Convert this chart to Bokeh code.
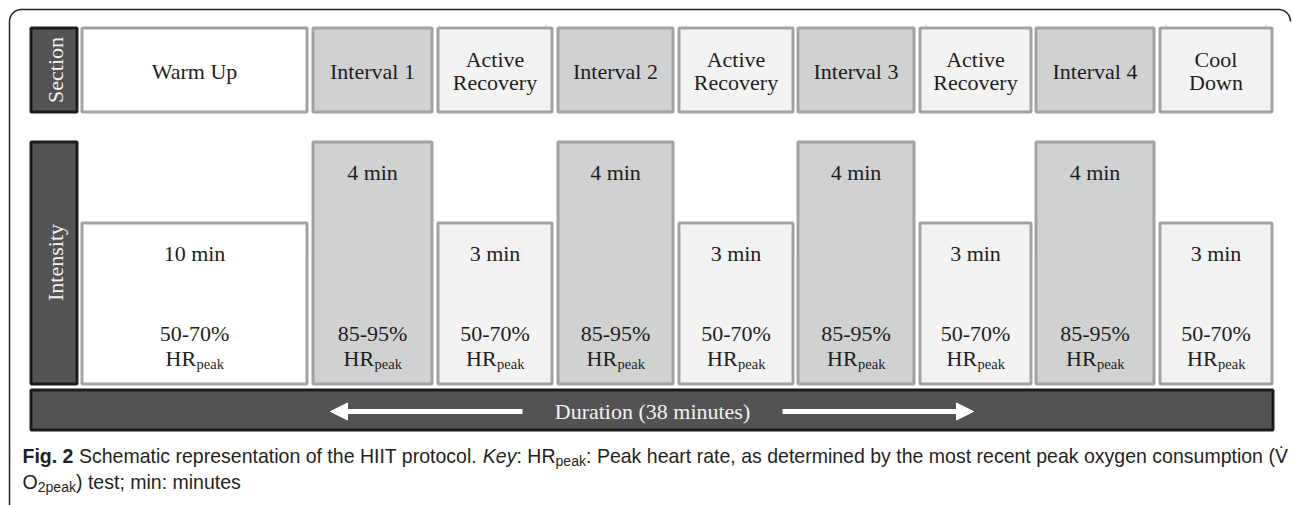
import numpy as np
from bokeh.plotting import figure
from bokeh.models import Range1d, ColumnDataSource, Arrow, NormalHead
from bokeh.core.properties import value
from bokeh.embed import file_html
from bokeh.resources import INLINE

# ---------------- data ----------------
sections = ["Warm Up", "Interval 1", "Active\nRecovery", "Interval 2", "Active\nRecovery",
            "Interval 3", "Active\nRecovery", "Interval 4", "Cool\nDown"]
kinds = ["warmup", "interval", "recovery", "interval", "recovery",
         "interval", "recovery", "interval", "cooldown"]
durations_min = [10, 4, 3, 4, 3, 4, 3, 4, 3]
levels = ["low", "high", "low", "high", "low", "high", "low", "high", "low"]
intensity_pct = ["50-70%", "85-95%", "50-70%", "85-95%", "50-70%",
                 "85-95%", "50-70%", "85-95%", "50-70%"]
row_labels = ["Section", "Intensity"]

# ---------------- layout ----------------
W, H = 1292, 505
col_left = [80, 311, 436, 556, 677, 796, 918, 1034, 1158]
col_right = [308, 433, 553, 674, 794, 915, 1032, 1155, 1273]
SEC_TOP, SEC_BOT = 26, 113
INT_BOT = 385
LEVEL_TOP = {"high": 140, "low": 221}
LAB_L, LAB_R = 29, 78
BAR_L, BAR_R, BAR_T, BAR_B = 29, 1274, 388, 431
FILL = {"warmup": "#ffffff", "interval": "#d0d1d1", "recovery": "#f3f3f3", "cooldown": "#f3f3f3"}
SERIF = value("Liberation Serif")
SANS = value("Liberation Sans")
TXT = "#1e1e1e"
FSZ = 22
BW = 3.0
h = BW / 2

p = figure(width=W, height=H, x_range=Range1d(0, W), y_range=Range1d(H, 0),
           output_backend="svg", toolbar_location=None,
           x_axis_location=None, y_axis_location=None, min_border=0)
p.grid.visible = False
p.outline_line_color = None
p.background_fill_color = "white"
p.border_fill_color = "white"

# outer rounded frame
r = 12
fx0, fy0, fx1 = 9, 9, 1290
a1 = np.linspace(np.pi, 1.5 * np.pi, 20)
a2 = np.linspace(1.5 * np.pi, 2 * np.pi, 20)
fxs = [fx0] + list(fx0 + r + r * np.cos(a1)) + list(fx1 - r + r * np.cos(a2))
fys = [H] + list(fy0 + r + r * np.sin(a1)) + list(fy0 + r + r * np.sin(a2))
p.line(fxs, fys, line_color="#222222", line_width=1.5)

# dark label boxes and duration bar
p.quad(left=[LAB_L + h, LAB_L + h, BAR_L + h], right=[LAB_R - h, LAB_R - h, BAR_R - h],
       top=[SEC_TOP + h, LEVEL_TOP["high"] + h, BAR_T + h],
       bottom=[SEC_BOT - h, INT_BOT - h, BAR_B - h],
       fill_color="#535353", line_color="#1c1c1c", line_width=BW)

lab_y = [(SEC_TOP + SEC_BOT) / 2, 262]
p.text(x=[(LAB_L + LAB_R) / 2 + 1] * 2, y=lab_y, text=row_labels, angle=np.pi / 2,
       text_align="center", text_baseline="middle", text_font=SERIF,
       text_font_size=f"{FSZ}px", text_color="#f2f2f2")

# section and intensity boxes
src = ColumnDataSource(dict(
    left=[x + h for x in col_left], right=[x - h for x in col_right],
    stop=[SEC_TOP + h] * 9, sbot=[SEC_BOT - h] * 9,
    itop=[LEVEL_TOP[l] + h for l in levels], ibot=[INT_BOT - h] * 9,
    fill=[FILL[k] for k in kinds]))
p.quad(left="left", right="right", top="stop", bottom="sbot", fill_color="fill",
       line_color="#a2a2a2", line_width=BW, source=src)
p.quad(left="left", right="right", top="itop", bottom="ibot", fill_color="fill",
       line_color="#a2a2a2", line_width=BW, source=src)

cx = [(a + b) / 2 for a, b in zip(col_left, col_right)]

# section texts
sx, sy, st = [], [], []
for c, s in zip(cx, sections):
    parts = s.split("\n")
    ys = [71] if len(parts) == 1 else [59, 82]
    for part, yy in zip(parts, ys):
        sx.append(c); sy.append(yy); st.append(part)
p.text(x=sx, y=sy, text=st, text_align="center", text_baseline="middle",
       text_font=SERIF, text_font_size=f"{FSZ}px", text_color=TXT)

# intensity texts
dur_y = [172 if l == "high" else 253 for l in levels]
p.text(x=cx, y=dur_y, text=[f"{d} min" for d in durations_min], text_align="center",
       text_baseline="middle", text_font=SERIF, text_font_size=f"{FSZ}px", text_color=TXT)
p.text(x=cx, y=[333] * 9, text=intensity_pct, text_align="center",
       text_baseline="middle", text_font=SERIF, text_font_size=f"{FSZ}px", text_color=TXT)
SUBSZ = 14.5
hr_w = 1.389 * FSZ
pk_w = (0.5 + 0.444 + 0.444 + 0.5) * SUBSZ
x0 = [c - (hr_w + pk_w) / 2 for c in cx]
p.text(x=x0, y=[357.5] * 9, text=["HR"] * 9, text_align="left",
       text_baseline="middle", text_font=SERIF, text_font_size=f"{FSZ}px", text_color=TXT)
p.text(x=[x + hr_w + 0.5 for x in x0], y=[363.5] * 9, text=["peak"] * 9, text_align="left",
       text_baseline="middle", text_font=SERIF, text_font_size=f"{SUBSZ}px", text_color=TXT)

# duration bar text and arrows
p.text(x=[652], y=[410.5], text=[f"Duration ({sum(durations_min)} minutes)"],
       text_align="center", text_baseline="middle", text_font=SERIF,
       text_font_size=f"{FSZ}px", text_color="#f2f2f2")
for xs, xe in [(522, 330), (782, 973)]:
    p.add_layout(Arrow(end=NormalHead(size=17, fill_color="white", line_color="white"),
                       x_start=xs, y_start=411, x_end=xe, y_end=411,
                       line_color="white", line_width=5))

# ---------------- caption ----------------
WR = {' ': 278, '(': 333, ')': 333, ',': 278, '-': 333, '.': 278, ':': 278, ';': 278, '%': 889,
      'A': 667, 'B': 667, 'C': 722, 'D': 722, 'E': 667, 'F': 611, 'G': 778, 'H': 722, 'I': 278,
      'J': 500, 'K': 667, 'L': 556, 'M': 833, 'N': 722, 'O': 778, 'P': 667, 'Q': 778, 'R': 722,
      'S': 667, 'T': 611, 'U': 722, 'V': 667, 'W': 944, 'X': 667, 'Y': 667, 'Z': 611,
      'a': 556, 'b': 556, 'c': 500, 'd': 556, 'e': 556, 'f': 278, 'g': 556, 'h': 556, 'i': 222,
      'j': 222, 'k': 500, 'l': 222, 'm': 833, 'n': 556, 'o': 556, 'p': 556, 'q': 556, 'r': 333,
      's': 500, 't': 278, 'u': 556, 'v': 500, 'w': 722, 'x': 500, 'y': 500, 'z': 500}
for d in "0123456789":
    WR[d] = 556
WB = dict(WR); WB.update({'g': 611, 'i': 278})


def tw(s, size, bold=False):
    tab = WB if bold else WR
    return sum(tab.get(ch, 0) for ch in s) / 1000 * size


SUB = 0.72
line1 = [("Fig. 2", "bold", False), (" Schematic representation of the HIIT protocol. ", "normal", False),
         ("Key", "italic", False), (": HR", "normal", False), ("peak", "normal", True),
         (": Peak heart rate, as determined by the most recent peak oxygen consumption (V\u0307", "normal", False)]
line2 = [("O", "normal", False), ("2peak", "normal", True), (") test; min: minutes", "normal", False)]

em1 = sum(tw(s, SUB if sub else 1, st == "bold") for s, st, sub in line1)
FS = 1266 / em1


def draw_line(segs, x, y):
    sub_dy = 0.35 * FS * (1 - SUB) + 4
    for s, st, sub in segs:
        size = FS * SUB if sub else FS
        lead = len(s) - len(s.lstrip(" "))
        core = s.strip(" ")
        xs = x + tw(" " * lead, size, st == "bold")
        p.text(x=[xs], y=[y + (sub_dy if sub else 0)], text=[core], text_font_size=f"{size:.2f}px",
               text_align="left", text_baseline="middle", text_font=SANS,
               text_font_style=st, text_color="#231f20")
        x += tw(s, size, st == "bold")


draw_line(line1, 22, 455)
draw_line(line2, 22, 481)

open("out.html", "w").write(file_html(p, INLINE))
